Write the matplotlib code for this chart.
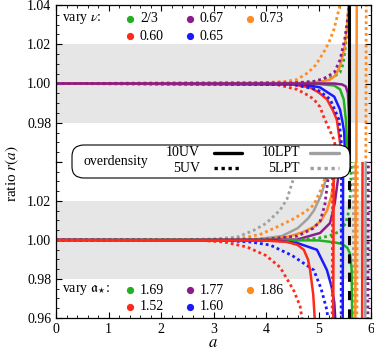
import numpy as np
import matplotlib
matplotlib.use("Agg")
import matplotlib.pyplot as plt
from matplotlib.patches import FancyBboxPatch
from matplotlib.lines import Line2D

plt.rcParams['font.family'] = ['Liberation Serif', 'DejaVu Serif']
plt.rcParams['mathtext.fontset'] = 'stix'

nan = np.nan

# --- top panel: vary nu  (a, r) ---
nu_labels = ['2/3', '0.67', '0.73', '0.60', '0.65']
nu_green_10uv = [(0, 1.0), (4.5, 1.0), (5.0, 0.9997), (5.3, 0.999), (5.41, 0.997), (5.48, 0.992),
                 (5.52, 0.982), (5.55, 0.965), (5.56, 0.95)]
nu_green_5uv = [(0, 1.0), (4.6, 1.0003), (5.0, 1.0012), (5.2, 1.0025), (5.32, 1.004), (5.41, 1.0056),
                (5.47, 1.01), (5.50, 1.016), (5.56, 1.029), (5.58, 1.045)]
nu_purple_10uv = [(0, 1.0), (5.3, 1.0), (5.45, 0.9995), (5.52, 0.9985), (5.56, 0.995), (5.58, 0.985),
                  (5.59, 0.95)]
nu_purple_5uv = [(0, 1.0), (4.5, 1.0003), (4.9, 1.001), (5.1, 1.0025), (5.3, 1.0056), (5.41, 1.012),
                 (5.5, 1.0226), (5.57, 1.036), (5.6, 1.045)]
nu_orange_10uv = [(0, 1.0), (4.8, 1.0003), (5.1, 1.0012), (5.22, 1.002), (5.32, 1.004), (5.41, 1.0087),
                  (5.5, 1.019), (5.55, 1.03), (5.58, 1.045), (nan, nan), (5.72, 0.95), (5.73, 1.05)]
nu_orange_5uv = [(0, 1.0), (3.8, 1.0003), (4.35, 1.001), (4.59, 1.002), (4.8, 1.0055), (4.95, 1.0095),
                 (5.1, 1.016), (5.2, 1.021), (5.3, 1.028), (5.4, 1.039), (5.45, 1.045),
                 (nan, nan), (5.9, 0.95), (5.91, 1.05)]
nu_red_10uv = [(0, 1.0), (4.5, 0.9996), (4.84, 0.998), (5.0, 0.9955), (5.16, 0.992), (5.28, 0.986),
               (5.35, 0.9815), (5.43, 0.966), (5.46, 0.95)]
nu_red_5uv = [(0, 1.0), (4.2, 0.9995), (4.59, 0.997), (4.8, 0.994), (4.91, 0.992), (5.03, 0.988),
              (5.1, 0.983), (5.2, 0.977), (5.30, 0.971), (5.39, 0.957), (5.41, 0.95)]
nu_blue_10uv = [(0, 1.0), (4.7, 0.9996), (5.03, 0.998), (5.2, 0.995), (5.30, 0.9933), (5.41, 0.9867),
                (5.46, 0.98), (5.49, 0.975), (5.52, 0.95)]
nu_blue_5uv = [(0, 1.0), (4.5, 0.9995), (4.97, 0.997), (5.1, 0.9945), (5.22, 0.992), (5.32, 0.986),
               (5.39, 0.9815), (5.45, 0.966), (5.48, 0.95)]

# --- bottom panel: vary alpha_star ---
al_labels = ['1.69', '1.77', '1.86', '1.52', '1.60']
al_gray_5lpt = [(0, 1.0), (2.5, 1.0002), (3.0, 1.0005), (3.45, 1.0015), (3.77, 1.005), (4.0, 1.0085),
                (4.27, 1.0154), (4.4, 1.021), (4.53, 1.032), (4.65, 1.045), (nan, nan), (5.66, 0.95), (5.67, 1.05)]
al_gray_10lpt = [(0, 1.0), (3.8, 1.0003), (4.3, 1.002), (4.6, 1.006), (4.8, 1.011), (4.91, 1.015),
                 (5.05, 1.023), (5.14, 1.031), (5.25, 1.045), (nan, nan), (5.89, 0.95), (5.9, 1.05)]
al_orange_5uv = [(0, 1.0), (3.2, 1.0003), (3.6, 1.0012), (3.9, 1.003), (4.21, 1.0067), (4.5, 1.0105),
                 (4.75, 1.0145), (4.91, 1.018), (5.05, 1.026), (5.15, 1.034), (5.25, 1.045),
                 (nan, nan), (5.73, 0.95), (5.74, 1.05)]
al_orange_10uv = [(0, 1.0), (3.8, 1.0002), (4.4, 1.0015), (4.7, 1.004), (4.91, 1.0067), (5.05, 1.010),
                  (5.16, 1.015), (5.24, 1.022), (5.30, 1.031), (5.36, 1.045), (nan, nan), (5.70, 0.95), (5.71, 1.05)]
al_purple_5uv = [(0, 1.0), (4.0, 1.0004), (4.6, 1.002), (4.9, 1.006), (5.03, 1.0095), (5.12, 1.018),
                 (5.18, 1.031), (5.26, 1.045), (nan, nan), (5.94, 0.95), (5.95, 1.05)]
al_purple_10uv = [(0, 1.0), (4.59, 1.0002), (5.03, 1.0036), (5.22, 1.0087), (5.31, 1.019), (5.37, 1.031),
                  (5.42, 1.045)]
al_green_5uv = [(0, 1.0), (4.6, 1.0), (5.0, 1.001), (5.2, 1.002), (5.41, 1.0045), (5.52, 1.0087),
                (5.58, 1.015), (5.61, 1.025), (5.63, 1.045)]
al_green_10uv = [(0, 1.0), (5.0, 0.9998), (5.3, 0.9988), (5.45, 0.998), (5.55, 0.996), (5.6, 0.993),
                 (5.63, 0.985), (5.645, 0.95)]
al_red_10uv = [(0, 1.0), (4.0, 0.9997), (4.4, 0.999), (4.6, 0.9975), (4.72, 0.995), (4.8, 0.99),
               (4.84, 0.9846), (4.9, 0.972), (4.95, 0.95), (nan, nan), (5.28, 0.95), (5.29, 1.05),
               (nan, nan), (5.83, 0.95), (5.84, 1.05)]
al_red_5uv = [(0, 1.0), (2.8, 0.9997), (3.2, 0.999), (3.64, 0.9964), (4.0, 0.992), (4.27, 0.986),
              (4.53, 0.974), (4.65, 0.966), (4.74, 0.95), (nan, nan), (5.26, 0.95), (5.27, 1.05)]
al_blue_5uv = [(0, 1.0), (3.2, 0.9997), (3.7, 0.999), (4.08, 0.9974), (4.5, 0.992), (4.91, 0.9846),
               (5.05, 0.975), (5.16, 0.964), (5.22, 0.95), (nan, nan), (5.43, 0.95), (5.44, 1.05)]
al_blue_10uv = [(0, 1.0), (4.2, 0.9997), (4.59, 0.9985), (4.97, 0.995), (5.16, 0.9846), (5.25, 0.976),
                (5.30, 0.968), (5.34, 0.95), (nan, nan), (5.46, 0.95), (5.47, 1.05)]

collapse_a = 5.58

GREEN, PURPLE, ORANGE, RED, BLUE = '#22b022', '#8c1c8c', '#ff8c22', '#ff2a1a', '#1a1aff'
GRAY = '#a0a0a0'
legend_colors = [GREEN, PURPLE, ORANGE, RED, BLUE]

SOLID = dict(lw=1.8, ls='-', solid_capstyle='butt')
DOT = dict(lw=2.0, ls=(0, (1.0, 1.1)), dash_capstyle='butt')


def draw(ax, pts, color, style):
    arr = np.array(pts, dtype=float)
    ax.plot(arr[:, 0], arr[:, 1], color=color, **style)


fig = plt.figure(figsize=(3.74, 3.54), dpi=100)
W, H = 374, 354
ax1 = fig.add_axes([56 / W, 1 - 162 / H, 315 / W, 157 / H])
ax2 = fig.add_axes([56 / W, 1 - 318 / H, 315 / W, 156 / H])

for ax in (ax1, ax2):
    ax.set_xlim(0, 6)
    ax.set_ylim(0.96, 1.04)
    ax.axhspan(0.98, 1.02, color='#e6e6e6', zorder=0, lw=0)
    ax.set_yticks([0.96, 0.98, 1.00, 1.02, 1.04])
    ax.set_yticks(np.arange(0.96, 1.0401, 0.005), minor=True)
    ax.set_xticks(range(7))
    ax.set_xticks(np.arange(0, 6.01, 0.2), minor=True)
    ax.tick_params(which='both', direction='in', top=True, right=True, labelsize=10)
    ax.tick_params(which='major', length=4, width=0.8)
    ax.tick_params(which='minor', length=2, width=0.6)
    for s in ax.spines.values():
        s.set_linewidth(0.9)

ax1.set_yticklabels(['', '0.98', '1.00', '1.02', '1.04'])
ax1.tick_params(axis='x', which='both', bottom=False, labelbottom=False)
ax1.spines['bottom'].set_visible(False)
ax2.set_yticklabels(['0.96', '0.98', '1.00', '1.02', ''])
ax2.tick_params(axis='x', which='both', top=False)
ax2.spines['top'].set_visible(False)

# top panel
ax1.axvline(collapse_a, color='black', lw=2.2, zorder=3)
draw(ax1, nu_green_10uv, GREEN, SOLID)
draw(ax1, nu_green_5uv, GREEN, DOT)
draw(ax1, nu_red_10uv, RED, SOLID)
draw(ax1, nu_red_5uv, RED, DOT)
draw(ax1, nu_blue_10uv, BLUE, SOLID)
draw(ax1, nu_blue_5uv, BLUE, DOT)
draw(ax1, nu_orange_10uv, ORANGE, SOLID)
draw(ax1, nu_orange_5uv, ORANGE, DOT)
draw(ax1, nu_purple_5uv, PURPLE, DOT)
draw(ax1, nu_purple_10uv, PURPLE, SOLID)

# bottom panel
draw(ax2, al_gray_5lpt, GRAY, DOT)
draw(ax2, al_gray_10lpt, GRAY, SOLID)
draw(ax2, al_orange_5uv, ORANGE, DOT)
draw(ax2, al_orange_10uv, ORANGE, SOLID)
draw(ax2, al_purple_5uv, PURPLE, DOT)
draw(ax2, al_purple_10uv, PURPLE, SOLID)
draw(ax2, al_green_5uv, GREEN, DOT)
draw(ax2, al_green_10uv, GREEN, SOLID)
ax2.axvline(collapse_a, color='black', lw=2.2, ls=(0, (3, 3)), zorder=3)
draw(ax2, al_blue_5uv, BLUE, DOT)
draw(ax2, al_blue_10uv, BLUE, SOLID)
draw(ax2, al_red_5uv, RED, DOT)
draw(ax2, al_red_10uv, RED, SOLID)


def color_legend(title, labels, y_rows):
    fig.text(62 / W, 1 - y_rows[0] / H, title, fontsize=10, va='center', ha='left')
    xs = [130, 190, 250]
    for i, (lab, col) in enumerate(zip(labels, legend_colors)):
        row, colpos = (0, i) if i < 3 else (1, i - 3)
        x = xs[colpos]
        y = 1 - y_rows[row] / H
        fig.lines.append(Line2D([x / W], [y], marker='o', ms=4.2, color=col, lw=0,
                                transform=fig.transFigure))
        fig.text((x + 10) / W, y, lab, fontsize=10, va='center', ha='left')


color_legend(r'vary $\nu$:', nu_labels, [19, 36])
color_legend(r'vary $\mathfrak{a}_{\star}$:', al_labels, [290, 307])

# line-style legend box
box = FancyBboxPatch((72 / W, 1 - 178 / H), 278 / W, 33 / H,
                     boxstyle='round,pad=0,rounding_size=0.032',
                     transform=fig.transFigure, facecolor='white', edgecolor='black',
                     lw=0.8, zorder=5)
fig.patches.append(box)
fig.text(116 / W, 1 - 161 / H, 'overdensity', fontsize=10, ha='center', va='center', zorder=6)
fig.text(200 / W, 1 - 153 / H, '10UV', fontsize=10, ha='right', va='center', zorder=6)
fig.text(200 / W, 1 - 168 / H, '5UV', fontsize=10, ha='right', va='center', zorder=6)
fig.text(300 / W, 1 - 153 / H, '10LPT', fontsize=10, ha='right', va='center', zorder=6)
fig.text(300 / W, 1 - 168 / H, '5LPT', fontsize=10, ha='right', va='center', zorder=6)
for x0, x1, y, col, style in [(214, 242, 153, 'black', '-'), (214, 242, 168, 'black', ':'),
                              (310, 339, 153, GRAY, '-'), (310, 339, 168, GRAY, ':')]:
    ln = Line2D([x0 / W, x1 / W], [1 - y / H, 1 - y / H], color=col, lw=2.4,
                ls='-' if style == '-' else (0, (1.0, 1.1)), solid_capstyle='round',
                dash_capstyle='butt', transform=fig.transFigure, zorder=6)
    fig.lines.append(ln)

fig.text(12 / W, 1 - 174 / H, r'ratio $r(a)$', rotation=90, fontsize=11, ha='center', va='center')
fig.text(213 / W, 1 - 343 / H, r'$a$', fontsize=12, ha='center', va='center')

fig.savefig('out.png', dpi=100)
